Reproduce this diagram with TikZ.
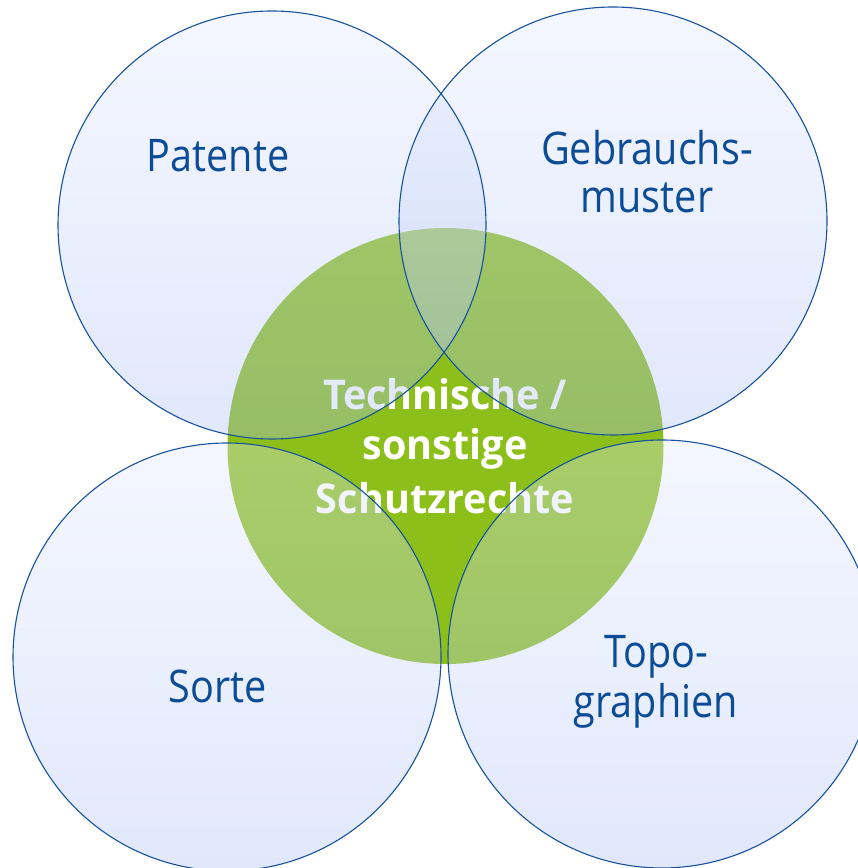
\documentclass[tikz,border=0pt]{standalone}
\usepackage{fontspec}
\setmainfont{Open Sans}
\newfontfamily\lblfont{Open Sans}[FakeStretch=0.88]
\newfontfamily\ctrfont{Open Sans}[FakeStretch=0.965]
\definecolor{vgreen}{RGB}{141,191,26}
\definecolor{ctop}{RGB}{224,232,255}
\definecolor{cbot}{RGB}{169,189,244}
\definecolor{cline}{RGB}{22,82,158}
\definecolor{ctext}{RGB}{12,76,150}
\tikzset{
  bluecirc/.style={top color=ctop, bottom color=cbot, fill opacity=0.35, draw=none},
  blueline/.style={draw=cline, line width=1.1pt},
  lbl/.style={anchor=base, text=ctext, inner sep=0pt, font=\lblfont\fontsize{45}{54}\selectfont},
  ctr/.style={anchor=base, text=white, inner sep=0pt, font=\ctrfont\bfseries\fontsize{41}{50}\selectfont}
}
\begin{document}
\begin{tikzpicture}[x=1pt,y=1pt]
\useasboundingbox (0,0) rectangle (858,868);
\clip (0,0) rectangle (858,868);
% green centre
\fill[vgreen] (445.5,422) circle[radius=218];
\node[ctr] (c1) at (445,458) {Technische /};
\node[ctr] (c2) at (445,408) {sonstige};
\node[ctr] (c3) at (445,354) {Schutzrechte};
% blue circles (translucent)
\path[bluecirc] (272,643) circle[radius=214];
\path[bluecirc] (613,647) circle[radius=214];
\path[bluecirc] (227,211) circle[radius=214];
\path[bluecirc] (662,214) circle[radius=214];
\draw[blueline] (272,643) circle[radius=214];
\draw[blueline] (613,647) circle[radius=214];
\draw[blueline] (227,211) circle[radius=214];
\draw[blueline] (662,214) circle[radius=214];
% labels
\node[lbl] (pat) at (218,696) {Patente};
\node[lbl] (gb1) at (647,703) {Gebrauchs-};
\node[lbl] (gb2) at (647,655) {muster};
\node[lbl] (sor) at (218,165) {Sorte};
\node[lbl] (to1) at (656,200) {Topo-};
\node[lbl] (to2) at (656,150) {graphien};
\end{tikzpicture}
\end{document}
